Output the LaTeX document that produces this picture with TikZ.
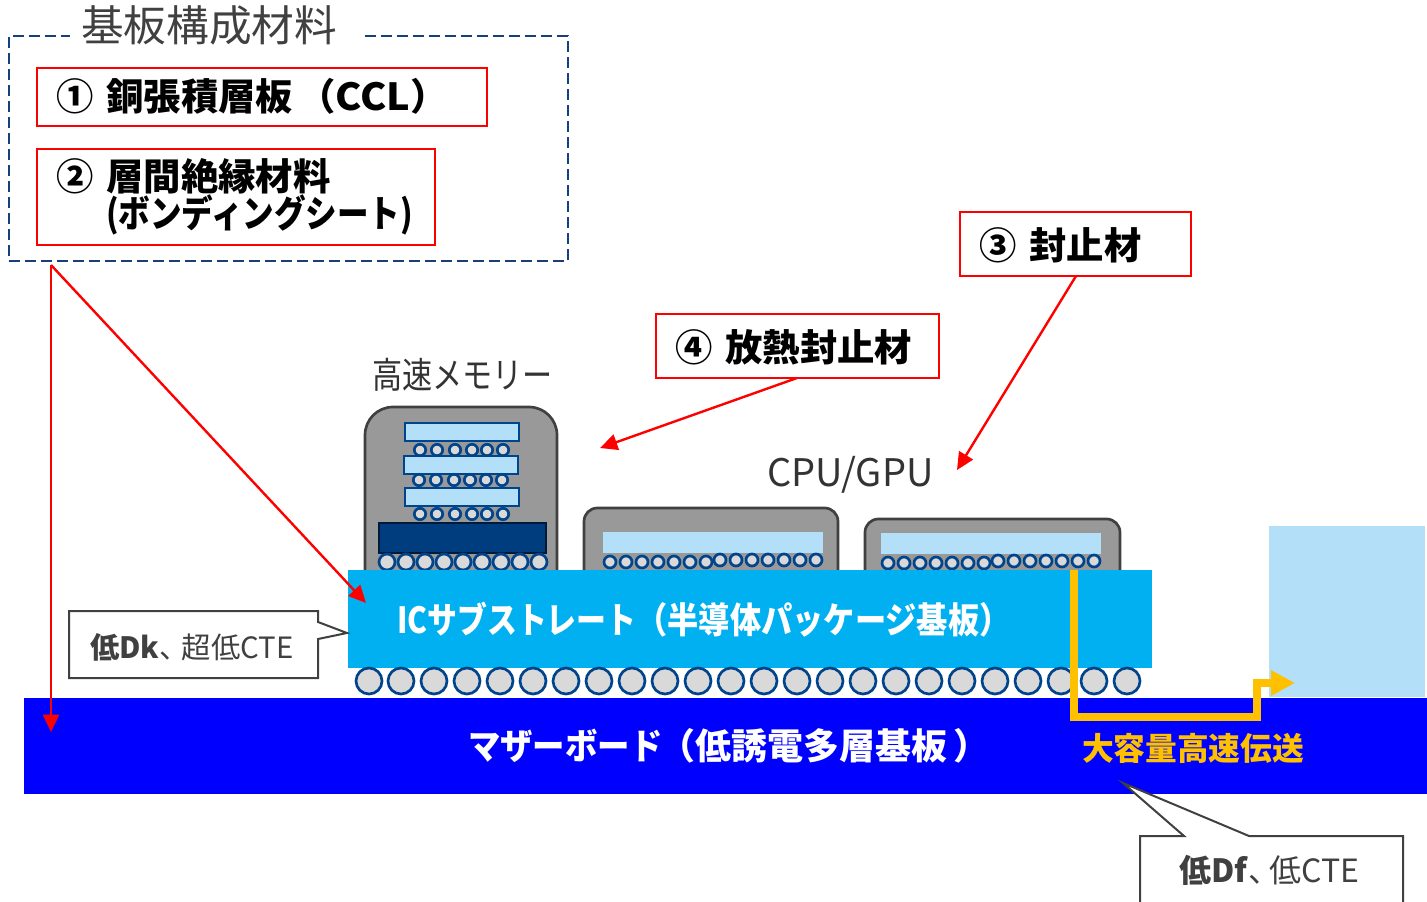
\documentclass[tikz,border=0pt]{standalone}
\usepackage{fontspec}
\usepackage{graphicx}
\setmainfont{Noto Sans CJK JP}
\usetikzlibrary{arrows.meta}
\definecolor{redl}{RGB}{255,0,0}
\definecolor{navyb}{RGB}{0,68,140}
\definecolor{dashb}{RGB}{23,62,125}
\definecolor{lightb}{RGB}{179,223,249}
\definecolor{subb}{RGB}{0,176,240}
\definecolor{gold}{RGB}{255,192,0}
\definecolor{greyp}{RGB}{153,153,153}
\definecolor{greyd}{RGB}{64,64,64}
\definecolor{txt}{RGB}{64,64,64}
\newcommand{\fs}[1]{\fontsize{#1}{#1}\selectfont}
\newcommand{\sx}[2]{\scalebox{#1}[1]{#2}}
\newcommand{\bx}[6]{\node[#1,rectangle,anchor=north west,inner sep=0pt,outer sep=0pt,minimum width={(#5-#3)*0.75pt},minimum height={(#6-#4)*0.75pt}] (#2) at (#3,#4) {};}
\newcommand{\ballrow}[4]{\foreach \bxx in {#2}{\draw[#1] (\bxx,#3) circle[radius=#4*0.75pt];}}
\tikzset{
  redbox/.style={draw=redl,line width=1.5pt,fill=white},
  redarr/.style={draw=redl,line width=1.8pt,-{Triangle[length=13pt,width=12pt]}},
  lbl/.style={anchor=west,inner sep=0pt,outer sep=0pt},
  die/.style={draw=navyb,line width=2pt,fill=lightb},
  ball/.style={draw=navyb,line width=2pt,fill=black!15},
  pkg/.style={draw=greyd,line width=2pt,fill=greyp},
  call/.style={draw=greyd,line width=1.5pt,fill=white,line join=miter},
}
\begin{document}
\begin{tikzpicture}[x=0.75pt,y=-0.75pt]
\useasboundingbox (0,0) rectangle (1427,902);
% packages
\draw[pkg,rounded corners=21pt] (365,600) -- (365,407) -- (557,407) -- (557,600) -- cycle;
\draw[pkg,rounded corners=10pt] (584,600) -- (584,508) -- (838,508) -- (838,600) -- cycle;
\draw[pkg,rounded corners=10pt] (865,600) -- (865,519) -- (1120,519) -- (1120,600) -- cycle;
% memory stack
\bx{die}{d1}{405}{423}{519}{441}
\bx{die}{d2}{404}{456}{518}{474}
\bx{die}{d3}{405}{488}{519}{506}
\ballrow{ball}{420,437,455,472,487,503}{450}{5.7}
\ballrow{ball}{419,436,454,470,486,502}{480}{5.7}
\ballrow{ball}{420,437,455,472,487,503}{514}{5.7}
\bx{draw=black!60!navyb,line width=2pt,fill=navyb!90!black}{base}{379}{523}{546}{553}
\ballrow{ball}{387,406,425,444,463,482,501,520,539}{562}{8}
% CPU / GPU dies
\bx{fill=lightb}{cd1}{603}{532}{823}{553}
\ballrow{ball}{610,626,642,658,674,690,706}{562}{6}
\ballrow{ball}{720,736,752,768,784,800,816}{560}{6}
\bx{fill=lightb}{cd2}{881}{533}{1101}{554}
\ballrow{ball}{888,904,920,936,952,968,984}{563}{6}
\ballrow{ball}{998,1014,1030,1046,1062,1078,1094}{561}{6}
% large blocks
\bx{fill=lightb}{sq}{1269}{526}{1425}{697}
\bx{fill=subb}{sub}{348}{570}{1152}{668}
\ballrow{ball}{369,401,434,467,500,533,566,599,632,665,698,731,764,797,830,863,896,929,962,995,1028,1061,1094,1127}{681}{13}
\bx{fill=blue}{mb}{24}{698}{1427}{794}
% gold path
\coordinate (gstart) at (1074,570);
\coordinate (gend) at (1295,683);
\draw[gold,line width=6pt,line join=miter,-{Triangle[length=18pt,width=18pt]}] (gstart) -- (1074,717) -- (1257,717) -- (1257,683) -- (gend);
% dashed frame
\bx{draw=dashb,line width=2.2pt,dash pattern=on 8pt off 4pt}{frame}{9}{36}{568}{261}
\bx{fill=white}{gap}{70}{10}{360}{42}
\node[inner sep=0pt] (ttl) at (209,25) {\fs{32}\color{txt}基板構成材料};
% red boxes
\bx{redbox}{b1}{37}{68}{487}{126}
\bx{redbox}{b2}{37}{149}{435}{245}
\bx{redbox}{b3}{960}{212}{1191}{276}
\bx{redbox}{b4}{656}{314}{939}{378}
\node[lbl] (t1) at (56,96) {\fs{28}\bfseries ①\hspace{3.5pt} 銅張積層板\hspace{4pt}（\sx{1.06}{CCL}）};
\node[lbl] (t2a) at (56,176) {\fs{28}\bfseries ②\hspace{3.5pt} 層間絶縁材料};
\node[lbl] (t2b) at (106,215) {\fs{28}\bfseries\sx{0.845}{(ボンディングシート)}};
\node[lbl] (t3) at (979,245) {\fs{28}\bfseries ③\hspace{3.5pt} 封止材};
\node[lbl] (t4) at (675,347) {\fs{28}\bfseries ④\hspace{3.5pt} 放熱封止材};
% labels
\node[lbl] (mem) at (372,375) {\fs{27}\color{black!80}\sx{0.837}{高速メモリー}};
\node[lbl] (cpu) at (767,475) {\fs{28.5}\color{black!80}CPU/GPU};
\node[lbl] (ics) at (397,620) {\fs{27}\bfseries\color{white}\sx{0.83}{ICサブストレート}\sx{0.867}{（半導体パッケージ基板）}};
\node[lbl] (mbt) at (468,746) {\fs{27}\bfseries\color{white}\sx{0.9}{マザーボード}\hspace{-2pt}（低誘電多層基板\hspace{4pt}）};
\node[lbl] (gt) at (1082,748) {\fs{23.8}\bfseries\color{gold}大容量高速伝送};
% callouts
\draw[call] (318,611) -- (69,611) -- (69,678) -- (318,678) -- (318,639) -- (347,633) -- (318,622) -- cycle;
\node[lbl] (c1) at (90,647) {\fs{22}\color{txt}\textbf{低Dk}、\hspace{-5pt}超低CTE};
\draw[call] (1184,836) -- (1140,836) -- (1140,903) -- (1403,903) -- (1403,836) -- (1249,836) -- (1123,783) -- cycle;
\node[lbl] (c2) at (1179,870) {\fs{24}\color{txt}\textbf{低Df}、\hspace{-8pt}低CTE};
% red connectors
\coordinate (r0) at (51,265);
\coordinate (r1) at (51,732);
\coordinate (r2) at (366,603);
\coordinate (r3s) at (797,378);
\coordinate (r3e) at (600,448);
\coordinate (r4s) at (1076,276);
\coordinate (r4e) at (957,470);
\draw[redarr] (r0) -- (r1);
\draw[redarr] (r0) -- (r2);
\draw[redarr] (r3s) -- (r3e);
\draw[redarr] (r4s) -- (r4e);
\end{tikzpicture}
\end{document}
